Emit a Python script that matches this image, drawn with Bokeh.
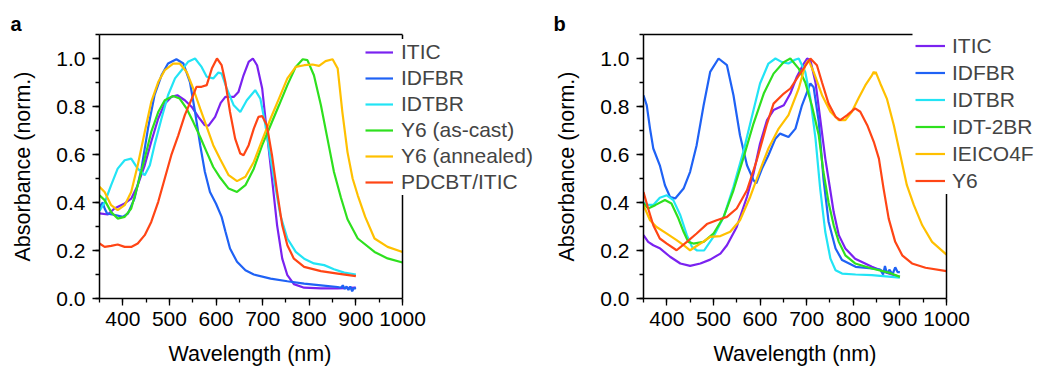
from bokeh.plotting import figure
from bokeh.layouts import row
from bokeh.models import (Range1d, SingleIntervalTicker, LinearAxis, FixedTicker,
                          Legend, LegendItem, Span, CustomJSTickFormatter, Title)
from bokeh.embed import file_html
from bokeh.resources import INLINE

FONT = "Liberation Sans"

# ---------------- Panel a data ----------------
a_itic_wl = [350, 368, 382, 404, 418, 432, 447, 461, 476, 490, 504, 517, 533, 548, 562, 576, 584, 598, 610, 620, 638, 648, 659, 670, 679, 688, 699, 709, 720, 731, 742, 753, 767, 789, 825, 861, 900]
a_itic_ab = [0.355, 0.35, 0.375, 0.396, 0.416, 0.472, 0.555, 0.653, 0.75, 0.812, 0.84, 0.847, 0.826, 0.798, 0.757, 0.722, 0.72, 0.757, 0.815, 0.84, 0.84, 0.86, 0.93, 0.986, 1.0, 0.972, 0.875, 0.694, 0.5, 0.305, 0.166, 0.097, 0.06, 0.045, 0.042, 0.042, 0.045]

a_idfbr_wl = [350, 353, 357, 361, 366, 371, 386, 400, 411, 425, 440, 454, 468, 483, 497, 515, 530, 544, 555, 566, 576, 587, 600, 612, 620, 630, 645, 663, 681, 717, 753, 789, 825, 861, 868, 872, 876, 880, 884, 888, 892, 896, 900]
a_idfbr_ab = [0.37, 0.39, 0.40, 0.375, 0.355, 0.352, 0.347, 0.34, 0.354, 0.416, 0.541, 0.708, 0.847, 0.93, 0.979, 0.997, 0.979, 0.902, 0.777, 0.639, 0.528, 0.444, 0.395, 0.34, 0.28, 0.208, 0.153, 0.118, 0.1, 0.083, 0.072, 0.062, 0.055, 0.048, 0.045, 0.055, 0.04, 0.05, 0.035, 0.05, 0.03, 0.045, 0.04]

a_idtbr_wl = [350, 361, 375, 389, 404, 418, 432, 447, 458, 468, 483, 497, 512, 526, 540, 555, 569, 580, 594, 605, 612, 623, 638, 652, 666, 684, 695, 706, 717, 728, 738, 753, 771, 789, 810, 832, 853, 875, 900]
a_idtbr_ab = [0.365, 0.40, 0.472, 0.541, 0.576, 0.583, 0.541, 0.514, 0.555, 0.639, 0.75, 0.847, 0.917, 0.951, 0.986, 1.0, 0.965, 0.924, 0.917, 0.942, 0.937, 0.875, 0.805, 0.777, 0.826, 0.868, 0.833, 0.722, 0.583, 0.458, 0.347, 0.25, 0.194, 0.166, 0.146, 0.139, 0.122, 0.108, 0.10]

a_y6cast_wl = [350, 361, 375, 389, 404, 418, 432, 447, 461, 476, 490, 508, 522, 537, 551, 566, 580, 594, 609, 627, 645, 663, 681, 699, 717, 735, 753, 771, 786, 796, 810, 825, 839, 853, 868, 882, 904, 940, 968, 1000]
a_y6cast_ab = [0.43, 0.41, 0.36, 0.333, 0.34, 0.375, 0.472, 0.583, 0.694, 0.777, 0.826, 0.844, 0.833, 0.791, 0.736, 0.673, 0.61, 0.548, 0.503, 0.458, 0.444, 0.472, 0.541, 0.639, 0.722, 0.805, 0.889, 0.965, 0.997, 0.993, 0.93, 0.805, 0.666, 0.527, 0.42, 0.33, 0.25, 0.194, 0.167, 0.15]

a_y6ann_wl = [350, 361, 375, 389, 404, 418, 432, 447, 461, 476, 490, 508, 522, 537, 551, 566, 580, 594, 609, 627, 645, 663, 681, 699, 717, 735, 753, 771, 789, 807, 821, 835, 850, 861, 871, 882, 893, 904, 920, 940, 968, 1000]
a_y6ann_ab = [0.465, 0.444, 0.389, 0.368, 0.389, 0.444, 0.555, 0.694, 0.819, 0.902, 0.951, 0.979, 0.979, 0.944, 0.875, 0.791, 0.715, 0.639, 0.58, 0.514, 0.489, 0.507, 0.569, 0.66, 0.75, 0.833, 0.917, 0.965, 0.972, 0.975, 0.969, 0.989, 0.997, 0.958, 0.777, 0.61, 0.5, 0.43, 0.34, 0.25, 0.215, 0.194]

a_pdcbt_wl = [350, 361, 375, 389, 404, 418, 432, 447, 461, 476, 490, 504, 519, 533, 548, 558, 569, 580, 591, 602, 612, 620, 630, 641, 652, 659, 670, 681, 691, 699, 709, 720, 731, 742, 753, 767, 789, 825, 861, 900]
a_pdcbt_ab = [0.229, 0.215, 0.219, 0.225, 0.215, 0.215, 0.229, 0.264, 0.319, 0.403, 0.5, 0.597, 0.68, 0.764, 0.833, 0.882, 0.882, 0.889, 0.958, 1.0, 0.972, 0.902, 0.777, 0.666, 0.604, 0.597, 0.639, 0.708, 0.757, 0.76, 0.722, 0.597, 0.444, 0.305, 0.222, 0.166, 0.132, 0.114, 0.104, 0.093]

# ---------------- Panel b data ----------------
b_itic_wl = [350, 360, 371, 386, 407, 429, 450, 472, 493, 515, 529, 550, 572, 586, 600, 615, 629, 651, 665, 679, 694, 701, 708, 719, 729, 740, 749, 758, 769, 783, 804, 840, 876, 900]
b_itic_ab = [0.264, 0.236, 0.222, 0.208, 0.174, 0.146, 0.136, 0.146, 0.162, 0.187, 0.222, 0.298, 0.424, 0.521, 0.646, 0.743, 0.785, 0.805, 0.854, 0.924, 0.979, 1.0, 0.993, 0.9, 0.75, 0.583, 0.472, 0.36, 0.264, 0.208, 0.166, 0.132, 0.104, 0.09]

b_idfbr_wl = [350, 357, 364, 371, 385, 396, 407, 418, 436, 450, 464, 479, 493, 511, 529, 543, 557, 572, 586, 592, 604, 618, 633, 643, 661, 676, 690, 708, 715, 726, 736, 747, 762, 776, 805, 840, 858, 864, 868, 872, 878, 884, 890, 895, 900]
b_idfbr_ab = [0.847, 0.805, 0.708, 0.625, 0.555, 0.472, 0.423, 0.417, 0.458, 0.528, 0.639, 0.805, 0.944, 1.0, 0.972, 0.847, 0.68, 0.555, 0.493, 0.48, 0.54, 0.597, 0.666, 0.687, 0.673, 0.708, 0.805, 0.896, 0.88, 0.736, 0.5, 0.32, 0.208, 0.16, 0.132, 0.125, 0.12, 0.10, 0.135, 0.105, 0.12, 0.10, 0.13, 0.11, 0.11]

b_idtbr_wl = [350, 360, 371, 385, 400, 414, 429, 443, 454, 465, 480, 500, 522, 543, 565, 586, 600, 618, 633, 647, 661, 675, 683, 697, 708, 719, 729, 740, 751, 762, 776, 805, 840, 900]
b_idtbr_ab = [0.40, 0.39, 0.39, 0.42, 0.43, 0.41, 0.347, 0.264, 0.215, 0.2, 0.2, 0.257, 0.34, 0.465, 0.618, 0.785, 0.896, 0.979, 1.0, 0.985, 0.979, 0.995, 1.0, 0.944, 0.833, 0.666, 0.458, 0.277, 0.166, 0.118, 0.104, 0.10, 0.097, 0.087]

b_idt2br_wl = [350, 360, 375, 396, 410, 425, 436, 446, 457, 479, 500, 522, 543, 565, 586, 608, 629, 651, 665, 683, 697, 711, 726, 736, 747, 758, 769, 783, 804, 840, 876, 900]
b_idt2br_ab = [0.396, 0.375, 0.389, 0.41, 0.396, 0.333, 0.278, 0.236, 0.229, 0.236, 0.27, 0.34, 0.451, 0.59, 0.729, 0.854, 0.937, 0.985, 1.0, 0.958, 0.9, 0.805, 0.68, 0.527, 0.4, 0.305, 0.236, 0.18, 0.146, 0.125, 0.108, 0.09]

b_ieico_wl = [350, 364, 378, 400, 421, 436, 450, 472, 493, 515, 536, 557, 579, 600, 618, 640, 661, 683, 697, 704, 715, 733, 751, 769, 783, 797, 811, 826, 840, 844, 846, 848, 858, 872, 887, 901, 915, 930, 948, 969, 1000]
b_ieico_ab = [0.389, 0.326, 0.298, 0.27, 0.243, 0.222, 0.201, 0.229, 0.257, 0.26, 0.278, 0.326, 0.424, 0.535, 0.625, 0.708, 0.764, 0.875, 0.972, 0.993, 0.944, 0.847, 0.778, 0.743, 0.743, 0.778, 0.833, 0.889, 0.93, 0.945, 0.935, 0.944, 0.896, 0.833, 0.722, 0.597, 0.472, 0.389, 0.305, 0.236, 0.183]

b_y6_wl = [350, 360, 371, 385, 400, 421, 443, 464, 486, 507, 529, 550, 572, 593, 615, 629, 651, 665, 686, 708, 722, 733, 747, 762, 772, 787, 804, 815, 830, 844, 855, 865, 876, 890, 905, 926, 955, 1000]
b_y6_ab = [0.444, 0.375, 0.305, 0.25, 0.229, 0.201, 0.236, 0.271, 0.31, 0.326, 0.34, 0.375, 0.451, 0.576, 0.729, 0.812, 0.854, 0.875, 0.937, 1.0, 0.972, 0.9, 0.812, 0.757, 0.743, 0.764, 0.792, 0.778, 0.722, 0.653, 0.583, 0.458, 0.333, 0.236, 0.18, 0.146, 0.128, 0.114]

# labels and colours
a_names = ["ITIC", "IDFBR", "IDTBR", "Y6 (as-cast)", "Y6 (annealed)", "PDCBT/ITIC"]
b_names = ["ITIC", "IDFBR", "IDTBR", "IDT-2BR", "IEICO4F", "Y6"]
colors = ["#7A22F0", "#1F62F5", "#22E4F5", "#2EE01E", "#FFC000", "#FF4515"]
x_label = "Wavelength (nm)"
y_label = "Absorbance (norm.)"

a_series = [(a_itic_wl, a_itic_ab), (a_idfbr_wl, a_idfbr_ab), (a_idtbr_wl, a_idtbr_ab),
            (a_y6cast_wl, a_y6cast_ab), (a_y6ann_wl, a_y6ann_ab), (a_pdcbt_wl, a_pdcbt_ab)]
b_series = [(b_itic_wl, b_itic_ab), (b_idfbr_wl, b_idfbr_ab), (b_idtbr_wl, b_idtbr_ab),
            (b_idt2br_wl, b_idt2br_ab), (b_ieico_wl, b_ieico_ab), (b_y6_wl, b_y6_ab)]

X0, X1 = 350, 1000          # visible axis extent
PX_PER_NM = 303 / 650.0     # plot scale (same in both panels)
TOP, BOTTOM, HEIGHT = 34, 71, 369


def style_axis(ax, is_x):
    ax.axis_line_color = "black"
    ax.axis_line_width = 1.5
    ax.major_tick_line_color = "black"
    ax.minor_tick_line_color = "black"
    ax.major_tick_line_width = 1.3
    ax.minor_tick_line_width = 1.3
    ax.major_tick_in = 0
    ax.major_tick_out = 7
    ax.minor_tick_in = 0
    ax.minor_tick_out = 4
    ax.major_label_text_font = FONT
    ax.major_label_text_font_size = "21px"
    ax.major_label_text_color = "black"
    ax.axis_label_text_font = FONT
    ax.axis_label_text_font_style = "normal"
    ax.axis_label_text_color = "black"
    if is_x:
        ax.major_label_standoff = 6
        # tiny blank label only reserves room so the title below sits lower
        ax.axis_label = " "
        ax.axis_label_text_font_size = "1px"
        ax.axis_label_standoff = 7
    else:
        ax.major_label_standoff = 7
        ax.axis_label_standoff = 18
        ax.axis_label_text_font_size = "21.5px"
        ax.axis_label = y_label


def make_panel(letter, names, series, fig_w, b_left, top_end, leg_loc, glyph_w, standoff,
               row_h, letter_off, xlabel_off):
    frame_w = fig_w - b_left
    x_end = X0 + frame_w / PX_PER_NM
    p = figure(width=fig_w, height=HEIGHT, x_range=Range1d(X0, x_end), y_range=Range1d(0, 1.1),
               output_backend="svg", toolbar_location=None,
               min_border_left=b_left, min_border_right=0,
               min_border_top=TOP, min_border_bottom=BOTTOM)
    p.outline_line_color = None
    p.grid.visible = False
    p.background_fill_color = "white"
    p.border_fill_color = "white"

    p.xaxis.ticker = SingleIntervalTicker(interval=100, num_minor_ticks=2)
    p.xaxis.bounds = (X0, X1)
    p.yaxis.ticker = SingleIntervalTicker(interval=0.2, num_minor_ticks=2)
    p.yaxis.formatter = CustomJSTickFormatter(code="return tick.toFixed(1);")
    style_axis(p.xaxis[0], True)
    style_axis(p.yaxis[0], False)

    # x-axis title, centred under the visible 350-1000 axis
    p.add_layout(Title(text=x_label, align="left", offset=xlabel_off, standoff=0,
                       vertical_align="bottom", text_font=FONT, text_font_size="21.5px",
                       text_font_style="normal", text_color="black"), "below")

    # top frame line (stops where the legend covers it)
    top = LinearAxis(ticker=FixedTicker(ticks=[600]), bounds=(X0, top_end))
    top.axis_line_color = "black"
    top.axis_line_width = 1.5
    top.major_tick_line_color = None
    top.minor_tick_line_color = None
    top.major_tick_out = 0
    top.major_label_standoff = 0
    top.major_label_text_font_size = "1px"
    top.major_label_text_color = None
    p.add_layout(top, "above")

    # right frame line at the end of the wavelength axis
    p.add_layout(Span(location=X1, dimension="height", line_color="black", line_width=1.5))

    items = []
    for name, color, (wl, ab) in zip(names, colors, series):
        r = p.line(wl, ab, line_color=color, line_width=2.2)
        items.append(LegendItem(label=name, renderers=[r]))
    leg = Legend(items=items, location=leg_loc, padding=0, spacing=0, margin=0,
                 glyph_width=glyph_w, glyph_height=row_h, label_height=row_h,
                 label_standoff=standoff, label_text_font=FONT, label_text_font_size="21px",
                 border_line_color=None, background_fill_color="white", background_fill_alpha=1.0)
    p.add_layout(leg)

    p.title.text = letter
    p.title.align = "left"
    p.title.offset = letter_off
    p.title.standoff = 0
    p.title.text_font = FONT
    p.title.text_font_size = "20px"
    p.title.text_font_style = "bold"
    p.title.text_color = "black"
    return p


pa = make_panel("a", a_names, a_series, 540, 99, 1000, (266, 103), 28, 8, 26, -89, 69)
pb = make_panel("b", b_names, b_series, 498, 103, 926, (272, 104), 30, 7, 27, -90, 70)

layout = row(pa, pb)
open("out.html", "w").write(file_html(layout, INLINE))
